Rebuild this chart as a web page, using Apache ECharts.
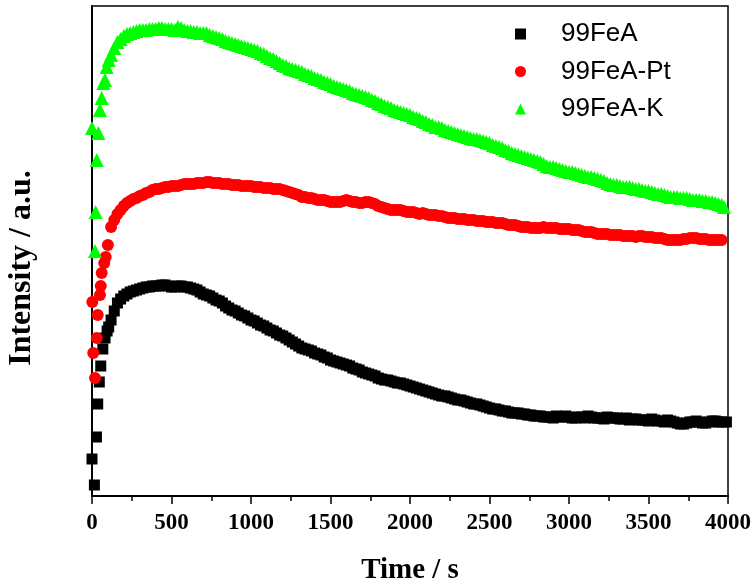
<!DOCTYPE html>
<html>
<head>
<meta charset="utf-8">
<script src="https://cdn.jsdelivr.net/npm/echarts@6/dist/echarts.min.js"></script>
<style>html,body{margin:0;padding:0;background:#fff}#c{width:756px;height:583px}</style>
</head>
<body>
<div id="c"></div>
<script>
// Time grids (s) for the main part of each curve
var timeGridA = [120,160,200,240,280,320,360,400,440,480,520,560,600,640,680,720,760,800,840,880,920,960,1000,
1040,1080,1120,1160,1200,1240,1280,1320,1360,1400,1440,1480,1520,1560,1600,1640,1680,1720,1760,1800,1840,1880,1920,1960,2000,
2040,2080,2120,2160,2200,2240,2280,2320,2360,2400,2440,2480,2520,2560,2600,2640,2680,2720,2760,2800,2840,2880,2920,2960,3000,
3040,3080,3120,3160,3200,3240,3280,3320,3360,3400,3440,3480,3520,3560,3600,3640,3680,3720,3760,3800,3840,3880,3920,3960];
var timeGridB = [140,180,220,260,300,340,380,420,460,500,540,580,620,660,700,740,780,820,860,900,940,980,1020,
1060,1100,1140,1180,1220,1260,1300,1340,1380,1420,1460,1500,1540,1580,1620,1660,1700,1740,1780,1820,1860,1900,1940,1980,2020,
2060,2100,2140,2180,2220,2260,2300,2340,2380,2420,2460,2500,2540,2580,2620,2660,2700,2740,2780,2820,2860,2900,2940,2980,3020,
3060,3100,3140,3180,3220,3260,3300,3340,3380,3420,3460,3500,3540,3580,3620,3660,3700,3740,3780,3820,3860,3900,3940];

// 99FeA (intensity, a.u.)
var feaA = [176,193,200,204,206,208,209,210,211,210,209,210,209,207,204,201,198,195,190,186,183,180,176,
173,170,166,163,160,156,152,148,146,143,141,138,135,133,131,128,126,123,121,118,116,115,113,112,110,
108,106,104,102,100,99,97,96,94,92,91,89,87,86,85,83,83,82,81,80,79,79,80,79,79,
78,79,80,78,78,79,78,77,78,77,76,76,77,75,74,75,73,72,74,75,73,74,75,74];
var feaB = [185,197,202,205,207,209,210,210,211,209,210,209,208,206,202,200,196,193,188,185,181,178,175,
171,168,165,161,158,154,150,147,145,142,139,136,134,132,130,127,124,122,120,117,116,114,113,111,109,
107,105,103,101,100,98,96,95,93,92,90,88,87,85,84,83,82,81,80,80,79,78,79,80,78,
79,78,79,78,77,78,78,77,76,77,76,75,76,75,76,74,72,73,74,74,73,75,74];
var feaExtraT = [0,15,28,36,46,55,68,82,95,105,3990];
var feaExtraV = [37,11,59,92,114,130,147,158,165,169,74];

// 99FeA-Pt
var ptA = [269,282,290,295,298,301,304,307,308,309,310,311,312,312,313,314,313,313,312,311,311,310,310,
309,308,308,307,306,304,302,299,298,297,296,295,294,294,296,294,293,294,293,290,288,286,286,285,284,
283,283,281,281,280,278,278,277,276,276,275,274,274,273,272,271,270,269,268,268,269,268,268,267,267,
266,265,264,263,262,262,261,261,260,260,260,259,259,258,257,256,256,257,258,258,257,256,256,256];
var ptB = [276,286,293,297,300,303,306,307,309,310,310,312,312,313,313,314,313,312,312,311,310,310,309,
309,308,307,307,305,303,301,299,298,296,296,294,294,295,295,294,293,294,292,289,287,286,286,284,284,
282,282,281,280,279,278,277,277,276,275,275,274,273,273,271,271,269,269,268,268,268,268,267,267,266,
266,264,264,262,262,261,261,260,260,259,260,259,258,258,256,256,256,257,258,257,257,256,256];
var ptExtraT = [2,8,19,30,36,50,55,61,77,86,100];
var ptExtraV = [194,143,118,158,181,201,210,223,233,239,251];

// 99FeA-K
var kA = [441,454,460,463,465,466,467,467,468,467,466,468,465,464,463,463,460,458,455,453,451,449,447,
445,442,438,435,431,428,426,424,421,418,416,413,410,408,406,403,401,399,396,393,390,388,385,383,381,
378,375,372,369,368,365,363,361,359,357,356,354,351,349,346,343,341,339,337,335,332,329,328,326,324,
323,321,319,318,316,313,311,310,309,308,307,305,304,302,301,299,299,298,297,296,295,294,293,291];
var kB = [448,457,462,464,466,466,467,468,467,467,469,466,465,464,463,461,459,457,454,452,450,448,446,
443,440,437,433,430,427,425,422,420,417,414,412,409,407,405,402,400,398,395,392,389,386,384,382,379,
377,374,371,369,366,364,362,360,358,357,355,353,350,348,345,342,340,338,336,334,330,329,327,325,324,
322,320,319,317,315,312,311,309,309,307,306,305,303,302,300,299,298,298,296,296,295,294,292];
var kExtraT = [0,19,23,30,40,50,61,71,82,92,105,3975];
var kExtraV = [368,245,284,336,363,386,398,413,416,429,436,289];

var xTicks = ['0','500','1000','1500','2000','2500','3000','3500','4000'];

function build(pairs) {
  var d = [];
  pairs.forEach(function (p) {
    for (var i = 0; i < p[0].length; i++) d.push([p[0][i], p[1][i]]);
  });
  d.sort(function(a, b){ return a[0] - b[0]; });
  return d;
}

var chart = echarts.init(document.getElementById('c'), null, {renderer: 'canvas'});
chart.setOption({
  animation: false,
  backgroundColor: '#fff',
  grid: {left: 92, right: 28, top: 6, bottom: 87, show: true, borderColor: '#000', borderWidth: 1.5,
         backgroundColor: 'transparent', containLabel: false, outerBoundsMode: 'none'},
  legend: {
    orient: 'vertical', left: 510, top: 16, itemWidth: 11, itemHeight: 11, itemGap: 11.5,
    textStyle: {fontFamily: 'Liberation Sans', fontSize: 26, color: '#000', padding: [0, 0, 0, 30]},
    data: [
      {name: '99FeA', icon: 'rect'},
      {name: '99FeA-Pt', icon: 'circle'},
      {name: '99FeA-K', icon: 'triangle'}
    ]
  },
  xAxis: {
    type: 'value', min: 0, max: 4000, interval: 500,
    name: 'Time / s', nameLocation: 'middle', nameGap: 60,
    nameTextStyle: {fontFamily: 'Liberation Serif', fontWeight: 'bold', fontSize: 29, color: '#000'},
    axisLine: {show: true, onZero: false, lineStyle: {color: '#000', width: 2}},
    axisTick: {show: true, inside: false, length: 8, lineStyle: {color: '#000', width: 1.5}},
    minorTick: {show: true, splitNumber: 2, length: 5, lineStyle: {color: '#000', width: 1.5}},
    splitLine: {show: false},
    axisLabel: {
      margin: 16, fontFamily: 'Liberation Serif', fontWeight: 'bold', fontSize: 23, color: '#000',
      formatter: function (v) { return xTicks[Math.round(v / 500)]; }
    }
  },
  yAxis: {
    type: 'value', min: 0, max: 490,
    name: 'Intensity / a.u.', nameLocation: 'middle', nameGap: 54,
    nameTextStyle: {fontFamily: 'Liberation Serif', fontWeight: 'bold', fontSize: 32, color: '#000', padding: [0, 34, 0, 0]},
    axisLine: {show: true, lineStyle: {color: '#000', width: 2}},
    axisTick: {show: false},
    axisLabel: {show: false},
    splitLine: {show: false}
  },
  series: [
    {name: '99FeA', type: 'scatter', symbol: 'rect', symbolSize: 11, itemStyle: {color: '#000000', opacity: 1},
     data: build([[feaExtraT, feaExtraV], [timeGridA, feaA], [timeGridB, feaB]])},
    {name: '99FeA-Pt', type: 'scatter', symbol: 'circle', symbolSize: 12, itemStyle: {color: '#ff0000', opacity: 1},
     data: build([[ptExtraT, ptExtraV], [timeGridA, ptA], [timeGridB, ptB]])},
    {name: '99FeA-K', type: 'scatter', symbol: 'triangle', symbolSize: 14, itemStyle: {color: '#00ff00', opacity: 1},
     data: build([[kExtraT, kExtraV], [timeGridA, kA], [timeGridB, kB]])}
  ]
});
</script>
</body>
</html>
